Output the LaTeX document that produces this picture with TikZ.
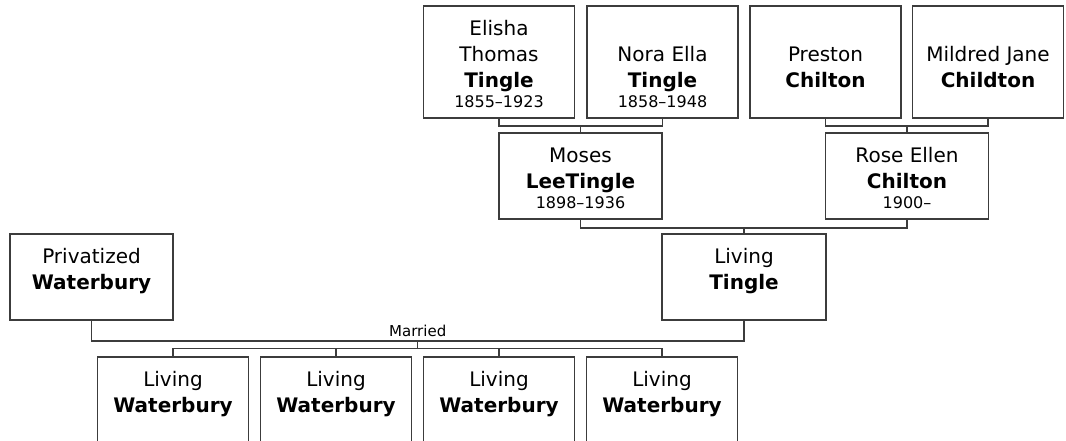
\documentclass[tikz,border=0pt]{standalone}
\usepackage{fontspec}
\setmainfont{DejaVu Sans}
\usetikzlibrary{calc, positioning}
\definecolor{linegray}{HTML}{3C3C3C}
\newcommand{\cardtext}[5]{\parbox[c][#2][b]{#1}{\centering
    \fontsize{15}{19.5}\selectfont #3\\\textbf{#4}\\[-4.5pt]%
    {\fontsize{12}{14}\selectfont #5\rule[-8.25pt]{0pt}{8.25pt}}}}

\begin{document}
\begin{tikzpicture}[x=0.75pt,y=-0.75pt,
    card/.style={draw=linegray,line width=1.1pt,inner sep=0pt},
    link/.style={draw=linegray,line width=1.1pt}]
\def\toprowy{62}
\def\midrowy{176}
\def\thirdrowy{277}
\def\kidrowy{400}
\def\narrow{113.25pt}
\def\wide{122.25pt}
\def\tall{75.75pt}
\def\short{56.25pt}
\useasboundingbox (0,0) rectangle (1066,440);
\clip (0,0) rectangle (1066,440);

\node[card] (Elisha) at (499,\toprowy)
    {\cardtext{\narrow}{\tall}{Elisha\\Thomas}{Tingle}{1855–1923}};
\node[card] (Nora) at (662.5,\toprowy)
    {\cardtext{\narrow}{\tall}{Nora Ella}{Tingle}{1858–1948}};
\node[card] (Preston) at (825.5,\toprowy)
    {\cardtext{\narrow}{\tall}{Preston}{Chilton}{}};
\node[card] (Mildred) at (988,\toprowy)
    {\cardtext{\narrow}{\tall}{Mildred Jane}{Childton}{}};

\node[card] (Moses) at (580.5,\midrowy)
    {\cardtext{\wide}{\short}{Moses}{LeeTingle}{1898–1936}};
\node[card] (Rose) at (907,\midrowy)
    {\cardtext{\wide}{\short}{Rose Ellen}{Chilton}{1900–}};

\node[card] (Privatized) at (91.5,\thirdrowy)
    {\cardtext{\wide}{\short}{Privatized}{Waterbury}{}};
\node[card] (LivingTingle) at (744,\thirdrowy)
    {\cardtext{123pt}{\short}{Living}{Tingle}{}};

\node[card] (KidOne) at (173,\kidrowy)
    {\cardtext{\narrow}{\short}{Living}{Waterbury}{}};
\node[card] (KidTwo) at (336,\kidrowy)
    {\cardtext{\narrow}{\short}{Living}{Waterbury}{}};
\node[card] (KidThree) at (499,\kidrowy)
    {\cardtext{\narrow}{\short}{Living}{Waterbury}{}};
\node[card] (KidFour) at (662,\kidrowy)
    {\cardtext{\narrow}{\short}{Living}{Waterbury}{}};

\coordinate (TingleBar) at (Elisha.south |- 0,126);
\coordinate (ChiltonBar) at (Preston.south |- 0,126);
\coordinate (ParentsBar) at (Moses.south |- 0,228);
\coordinate (MarriedBar) at (Privatized.south |- 0,341);
\coordinate (MarriedMid) at ($(Privatized.south |- 0,341)!0.5!(LivingTingle.south |- 0,341)$);
\coordinate (KidsBar) at (KidOne.north |- 0,348.5);

\draw[link] (Elisha.south) |- (TingleBar) -| (Nora.south);
\draw[link] (Moses.north) -- (Moses.north |- TingleBar);
\draw[link] (Preston.south) |- (ChiltonBar) -| (Mildred.south);
\draw[link] (Rose.north) -- (Rose.north |- ChiltonBar);

\draw[link] (Moses.south) |- (ParentsBar) -| (Rose.south);
\draw[link] (LivingTingle.north) -- (LivingTingle.north |- ParentsBar);

\draw[link] (Privatized.south) |- (MarriedBar) -| (LivingTingle.south)
    node[pos=0.25,above,inner sep=2.5pt,font=\fontsize{11.25}{13}\selectfont] (Married) {Married};
\draw[link] (MarriedMid) -- (MarriedMid |- KidsBar);
\draw[link] (KidOne.north) |- (KidsBar) -| (KidFour.north);
\draw[link] (KidTwo.north) -- (KidTwo.north |- KidsBar);
\draw[link] (KidThree.north) -- (KidThree.north |- KidsBar);
\end{tikzpicture}
\end{document}
